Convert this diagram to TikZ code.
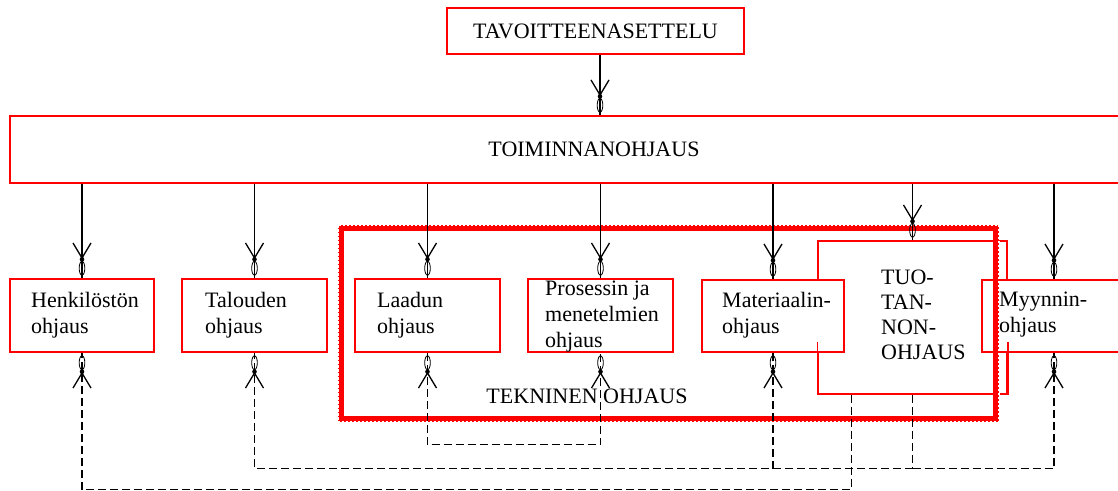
\documentclass[tikz,border=0pt]{standalone}
\usepackage{fontspec}
\setmainfont{Liberation Serif}
\usetikzlibrary{arrows.meta,decorations.markings,calc}
\begin{document}
\begin{tikzpicture}[x=1pt,y=-1pt,
  box/.style={draw=red, line width=1.5pt, fill=white, inner sep=0pt},
  lbl/.style={anchor=west, align=left, inner sep=0pt, font=\fontsize{22}{26}\selectfont},
  barb/.tip={Straight Barb[length=15pt,width=18pt,line width=1.3pt]},
  % barbed head with a dark knot and a small open loop towards the box
  headend/.style={postaction={decorate}, decoration={markings,
    mark=at position -19pt with {\arrow{barb}\fill[solid] (0pt,0pt) circle (2.3pt);},
    mark=at position -10pt with {\draw[solid, line width=0.8pt] (0pt,0pt) ellipse (7pt and 2.8pt);}}},
  headboth/.style={postaction={decorate}, decoration={markings,
    mark=at position 10pt with {\draw[solid, line width=0.8pt] (0pt,0pt) ellipse (7pt and 2.8pt);},
    mark=at position 19pt with {\arrowreversed{barb}\fill[solid] (0pt,0pt) circle (2.3pt);},
    mark=at position -19pt with {\arrow{barb}\fill[solid] (0pt,0pt) circle (2.3pt);},
    mark=at position -10pt with {\draw[solid, line width=0.8pt] (0pt,0pt) ellipse (7pt and 2.8pt);}}},
  flow/.style={draw, line width=1.1pt, headend},
  fb/.style={draw, line width=1.2pt, dash pattern=on 8pt off 4pt}
]
\useasboundingbox (0,0) rectangle (1118,490);
\fill[white] (0,0) rectangle (1118,490);
\clip (0,0) rectangle (1118,490);

% production control box, partly covered by its neighbours
\node[box, minimum width=189, minimum height=153] (tuo) at (912.5,317.5) {};
\node[box, minimum width=142, minimum height=72] (mat) at (773,316) {};
\node[box, minimum width=144, minimum height=72] (myy) at (1054,316) {};
\draw[red, line width=1.5pt] ($(tuo.south west)+(0,-53)$) -- (tuo.south west);
\draw[red, line width=1.5pt] ($(tuo.south east)+(0,-53)$) -- (tuo.south east);

% top level boxes
\node[box, minimum width=297, minimum height=46, font=\fontsize{22}{26}\selectfont] (tav) at (595.5,31) {TAVOITTEENASETTELU};
\node[box, minimum width=1168, minimum height=67, font=\fontsize{22}{26}\selectfont] (toim) at (594,149.5) {TOIMINNANOHJAUS};

% function boxes
\node[box, minimum width=144, minimum height=73] (henk) at (82,315.5) {};
\node[box, minimum width=145, minimum height=73] (tal) at (254.5,315.5) {};
\node[box, minimum width=145, minimum height=73] (laa) at (427.5,315.5) {};
\node[box, minimum width=145, minimum height=73] (pros) at (600.5,315.5) {};

% technical control frame
\node[draw=red, line width=6pt, minimum width=655, minimum height=190.5, inner sep=0pt] (tek) at (668.5,323.25) {};
\draw[white, line width=1.6pt, dash pattern=on 2.5pt off 1.5pt] (tek.north west) rectangle (tek.south east);

% labels
\node[lbl] (henkT) at (31,315) {Henkilöstön\\ohjaus};
\node[lbl] (talT) at (205,315) {Talouden\\ohjaus};
\node[lbl] (laaT) at (377,315) {Laadun\\ohjaus};
\node[lbl] (prosT) at (545,317) {Prosessin ja\\menetelmien\\ohjaus};
\node[lbl] (matT) at (722,315) {Materiaalin-\\ohjaus};
\node[lbl] (myyT) at (999,315) {Myynnin-\\ohjaus};
\node[lbl, font=\fontsize{22}{25}\selectfont] (tuoT) at (881,315) {TUO-\\TAN-\\NON-\\OHJAUS};
\node[inner sep=0pt, font=\fontsize{22}{26}\selectfont] (tekT) at (587,396) {TEKNINEN OHJAUS};

% control flow downwards
\draw[flow] ($(tav.south)+(4.5,0)$) -- ($(toim.north)+(6,0)$);
\foreach \n in {henk,tal,laa,pros,mat,tuo,myy}
  \draw[flow] (\n.north |- toim.south) -- (\n.north);

% feedback from production control
\coordinate (tA) at ($(tuo.south west)+(34,0)$);
\coordinate (busA) at ($(tA)+(0,95)$);
\coordinate (busB) at ($(tuo.south)+(0,74)$);
\draw[fb, headend] (tA) -- (busA) -| (henk.south);
\draw[fb] (tuo.south) -- (busB);
\draw[fb, headend] (busB) -| (tal.south);
\draw[fb, headend] (busB) -| (myy.south);
\draw[fb, headend] (mat.south |- busB) -- (mat.south);

% quality and process control loop
\draw[fb, headboth] (laa.south) |- ($(pros.south)+(0,92)$) -- (pros.south);
\end{tikzpicture}
\end{document}
